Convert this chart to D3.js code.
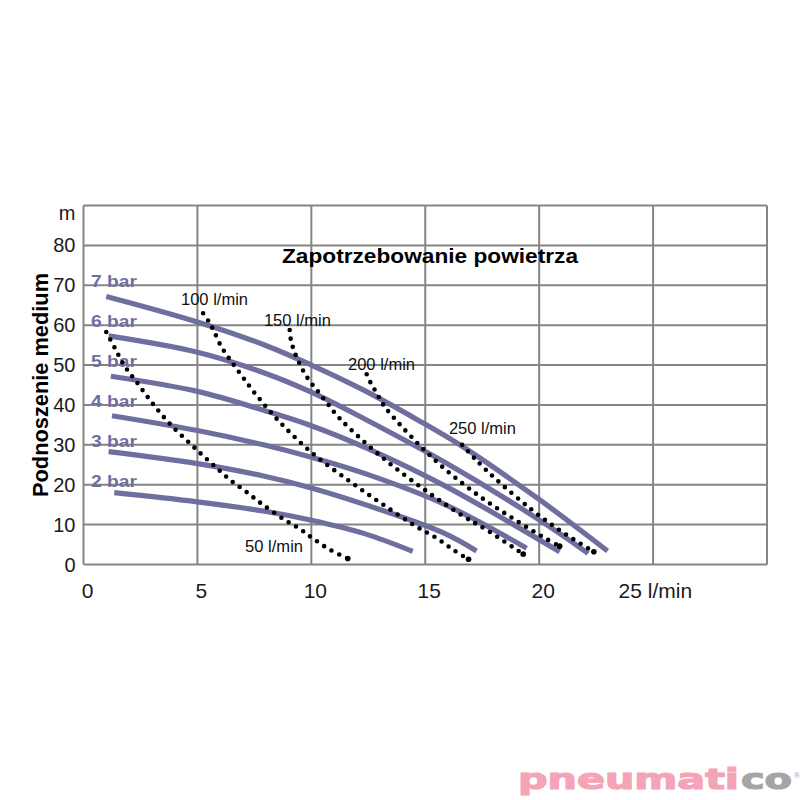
<!DOCTYPE html>
<html>
<head>
<meta charset="utf-8">
<script src="https://cdn.jsdelivr.net/npm/d3@7"></script>
<style>
  html, body { margin: 0; padding: 0; background: #ffffff; }
  svg { display: block; }
</style>
</head>
<body>
<svg id="chart" width="800" height="800"></svg>
<script>
// ---------- data ----------
const xTicks = [0, 5, 10, 15, 20, 25];
const xTickLabels = ["0", "5", "10", "15", "20", "25 l/min"];
const yTicks = [0, 10, 20, 30, 40, 50, 60, 70, 80, 90];
const yTickLabels = ["0", "10", "20", "30", "40", "50", "60", "70", "80", "m"];

const pressureNames = ["7 bar", "6 bar", "5 bar", "4 bar", "3 bar", "2 bar"];
const pressureLabelLevels = [70, 60, 50, 40, 30, 20];

const bar7 = [[1.0, 67.2], [5, 60.8], [8, 54.9], [10, 50.0], [12.3, 43.7], [14.65, 36.3], [16.6, 29.7], [20, 16.3], [23.0, 3.4]];
const bar6 = [[1.1, 57.3], [5, 53.2], [8, 47.9], [10, 43.2], [12.3, 36.6], [15.8, 25.8], [20, 11.2], [22.15, 2.8]];
const bar5 = [[1.2, 47.2], [5, 43.4], [8, 38.5], [10, 34.8], [12.5, 29.0], [15.8, 19.9], [20.9, 3.2]];
const bar4 = [[1.25, 37.3], [5, 33.6], [7.9, 30.0], [10, 26.9], [12.3, 22.9], [15.8, 15.2], [19.45, 4.1]];
const bar3 = [[1.1, 28.3], [5, 25.3], [7.9, 22.2], [10, 19.2], [13, 13.8], [15.8, 7.9], [17.25, 3.4]];
const bar2 = [[1.35, 18.0], [5, 15.7], [7.9, 13.4], [10, 11.1], [12.3, 7.8], [14.45, 3.3]];
const pressureSeries = [bar7, bar6, bar5, bar4, bar3, bar2];

const flowNames = ["50 l/min", "100 l/min", "150 l/min", "200 l/min", "250 l/min"];
const flow50 = [[1.0, 58.3], [1.4, 54], [1.8, 49.8], [2.3, 46.0], [3.0, 40.6], [3.8, 35.2], [4.7, 30.2], [5.3, 27], [5.9, 23.9], [6.5, 20.9], [7.15, 18.2], [7.8, 15.3], [8.8, 11.3], [9.5, 8.9], [10.1, 6.4], [10.85, 3.6], [11.6, 1.5]];
const flow100 = [[5.25, 63], [5.5, 60.9], [5.7, 58.8], [6.05, 54.6], [6.5, 50.8], [7.0, 46.9], [7.5, 43.1], [8.6, 35.8], [10.05, 27.9], [11.7, 20.8], [13.1, 15.2], [14.5, 9.9], [15.5, 6.6], [16.25, 3.6], [16.9, 1.3]];
const flow150 = [[9.05, 58.8], [9.1, 56.4], [9.21, 54.1], [9.36, 51.9], [9.55, 49.6], [9.75, 47.5], [9.98, 45.6], [10.25, 43.7], [10.7, 40.4], [11.25, 36.6], [13.1, 26.9], [15.1, 18.2], [16.7, 12.0], [17.6, 9.0], [19.3, 2.6]];
const flow200 = [[12.43, 47.7], [12.6, 45.6], [12.8, 43.6], [13.0, 41.6], [13.2, 39.7], [13.5, 37.6], [14.0, 34.4], [14.8, 29.6], [15.83, 24.1], [17.36, 17.2], [18.75, 11.9], [20.14, 7.0], [20.9, 4.6]];
const flow250 = [[16.62, 30], [17.2, 26.4], [18.1, 21.4], [19.66, 13.8], [21.0, 8.2], [22.4, 3.2]];
const flowSeries = [flow50, flow100, flow150, flow200, flow250];
// annotation anchor points (data units) for the flow labels
const flowLabelAnchors = [[7.09, 3.2], [4.28, 65.0], [7.92, 59.8], [11.61, 48.7], [16.04, 32.7]];

const titleText = "Zapotrzebowanie powietrza";
const yTitleText = "Podnoszenie medium";

// ---------- layout ----------
const margin = { left: 83.5, top: 205.5, right: 800 - 767, bottom: 800 - 564.5 };
const W = 800, H = 800;
const innerW = W - margin.left - margin.right;
const innerH = H - margin.top - margin.bottom;

const x = d3.scaleLinear().domain([0, 30]).range([margin.left, margin.left + innerW]);
const y = d3.scaleLinear().domain([0, 90]).range([margin.top + innerH, margin.top]);

const svg = d3.select("#chart");
const FONT = "'Liberation Sans', Arial, sans-serif";
const gridColor = "#858585";
const lineColor = "#6f6f9f";

// grid
const grid = svg.append("g");
grid.selectAll("line.v").data(d3.range(0, 31, 5)).join("line")
  .attr("x1", d => x(d)).attr("x2", d => x(d))
  .attr("y1", y(0)).attr("y2", y(90))
  .attr("stroke", gridColor).attr("stroke-width", 2);
grid.selectAll("line.h").data(yTicks).join("line")
  .attr("x1", x(0)).attr("x2", x(30))
  .attr("y1", d => y(d)).attr("y2", d => y(d))
  .attr("stroke", gridColor).attr("stroke-width", 2);

// y tick labels
svg.append("g").selectAll("text").data(yTicks).join("text")
  .attr("x", x(0) - 8)
  .attr("y", (d, i) => i === yTicks.length - 1 ? y(d) + 14.5 : y(d) + 7)
  .attr("text-anchor", "end")
  .attr("font-family", FONT).attr("font-size", 20).attr("fill", "#1a1a1a")
  .text((d, i) => yTickLabels[i]);

// x tick labels
svg.append("g").selectAll("text").data(xTicks).join("text")
  .attr("x", (d, i) => i === xTicks.length - 1 ? x(d) - 34.5 : x(d) + 4)
  .attr("y", y(0) + 33)
  .attr("text-anchor", (d, i) => i === xTicks.length - 1 ? "start" : "middle")
  .attr("font-family", FONT).attr("font-size", 21).attr("fill", "#1a1a1a")
  .text((d, i) => xTickLabels[i]);

// title
svg.append("text")
  .attr("x", 282).attr("y", 263)
  .attr("font-family", FONT).attr("font-weight", "bold").attr("font-size", 19.5)
  .attr("textLength", 296).attr("lengthAdjust", "spacingAndGlyphs")
  .attr("fill", "#000").text(titleText);

// y axis title
svg.append("text")
  .attr("transform", "translate(48," + ((y(0) + y(90)) / 2) + ") rotate(-90)")
  .attr("text-anchor", "middle")
  .attr("font-family", FONT).attr("font-weight", "bold").attr("font-size", 21.5)
  .attr("textLength", 224).attr("lengthAdjust", "spacingAndGlyphs")
  .attr("fill", "#000").text(yTitleText);

// pressure curves
const line = d3.line().x(d => x(d[0])).y(d => y(d[1])).curve(d3.curveCatmullRom.alpha(0.5));
svg.append("g").selectAll("path").data(pressureSeries).join("path")
  .attr("d", line)
  .attr("fill", "none").attr("stroke", lineColor).attr("stroke-width", 5.2)
  .attr("stroke-linecap", "butt");

// pressure labels
svg.append("g").selectAll("text").data(pressureNames).join("text")
  .attr("x", x(0.33))
  .attr("y", (d, i) => y(pressureLabelLevels[i] - 0.45))
  .attr("font-family", FONT).attr("font-weight", "bold").attr("font-size", 16.5)
  .attr("textLength", 46).attr("lengthAdjust", "spacingAndGlyphs")
  .attr("fill", lineColor).text(d => d);

// flow (air consumption) dotted curves
svg.append("g").selectAll("path").data(flowSeries).join("path")
  .attr("d", line)
  .attr("fill", "none").attr("stroke", "#000").attr("stroke-width", 4.6)
  .attr("stroke-linecap", "round").attr("stroke-dasharray", "0 8.6");

// end dots
svg.append("g").selectAll("circle").data(flowSeries).join("circle")
  .attr("cx", d => x(d[d.length - 1][0])).attr("cy", d => y(d[d.length - 1][1]))
  .attr("r", 2.8).attr("fill", "#000");

// flow labels
const flowLabelWidths = [58, 67, 67, 67, 67];
svg.append("g").selectAll("text").data(flowNames).join("text")
  .attr("x", (d, i) => x(flowLabelAnchors[i][0]))
  .attr("y", (d, i) => y(flowLabelAnchors[i][1]))
  .attr("font-family", FONT).attr("font-size", 17)
  .attr("textLength", (d, i) => flowLabelWidths[i]).attr("lengthAdjust", "spacingAndGlyphs")
  .attr("fill", "#111").text(d => d);

// logo
svg.append("text").attr("x", 518).attr("y", 789)
  .attr("font-family", "'DejaVu Sans', sans-serif").attr("font-weight", "bold").attr("font-size", 28)
  .attr("textLength", 221).attr("lengthAdjust", "spacingAndGlyphs")
  .attr("fill", "#f5a3b6").attr("stroke", "#f5a3b6").attr("stroke-width", 1.2)
  .text("pneumati");
svg.append("text").attr("x", 741).attr("y", 789)
  .attr("font-family", "'DejaVu Sans', sans-serif").attr("font-weight", "bold").attr("font-size", 28)
  .attr("textLength", 51).attr("lengthAdjust", "spacingAndGlyphs")
  .attr("fill", "#a5a5a5").attr("stroke", "#a5a5a5").attr("stroke-width", 1.2)
  .text("co");
svg.append("text").attr("x", 794).attr("y", 778)
  .attr("font-family", FONT).attr("font-size", 8)
  .attr("fill", "#a5a5a5").text("®");
</script>
</body>
</html>
